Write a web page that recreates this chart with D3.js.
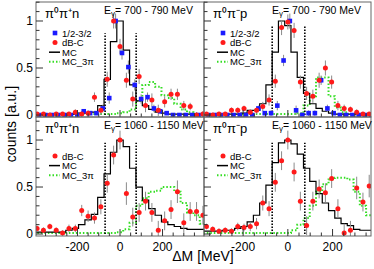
<!DOCTYPE html>
<html><head><meta charset="utf-8">
<script src="https://cdn.jsdelivr.net/npm/d3@7"></script>
<style>body{margin:0;background:#fff}svg{display:block}text{font-family:"Liberation Sans",Arial,sans-serif}</style>
</head><body><svg id="c" width="374" height="269"></svg>
<script>
// ---------- data ----------
const binsL = [-390,-360,-330,-300,-270,-240,-210,-180,-150,-120,-90,-60,-30,0,30,60,90,120,150,180,210,240,270,300,330,360,390];
const binsR = [-364,-336,-308,-280,-252,-224,-196,-168,-140,-112,-84,-56,-28,0,28,56,84,112,140,168,196,224,252,280,308,336,364];

// top-left: pi0 pi+ n, 700-790
const mcTL  = [0.01,0.01,0.01,0.01,0.01,0.01,0.01,0.02,0.02,0.03,0.10,0.38,0.78,1.00,0.69,0.32,0.15,0.10,0.06,0.03,0.02,0.01,0.01,0.01,0.01,0.01,0.01];
const mc3TL = [0.01,0.01,0.01,0.01,0.01,0.01,0.01,0.01,0.01,0.01,0.01,0.01,0.01,0.02,0.03,0.06,0.15,0.32,0.35,0.30,0.21,0.18,0.12,0.06,0.03,0.01,0.01];
const dbcTL = [0.01,0.01,0.00,0.01,0.01,0.01,0.03,0.01,0.02,0.19,0.05,0.38,1.00,0.73,0.37,0.17,0.41,0.10,0.16,0.05,0.14,0.22,0.22,0.10,0.09,0.00,0.01];
const dbcErrTL = [0.02,0.02,0.02,0.02,0.02,0.02,0.03,0.03,0.03,0.05,0.05,0.08,0.08,0.08,0.08,0.08,0.08,0.07,0.07,0.06,0.06,0.06,0.06,0.05,0.04,0.03,0.03];
const hbTL  = [0.00,0.00,0.00,0.00,0.00,0.00,0.00,0.04,0.02,0.02,0.07,0.18,1.00,0.66,0.51,0.32,0.17,0.19,0.07,0.04,0.02,0.00,0.00,0.00,0.00,0.00,0.00];
const hbErrTL = [0.01,0.01,0.01,0.01,0.01,0.01,0.01,0.02,0.02,0.02,0.04,0.06,0.08,0.07,0.07,0.06,0.05,0.05,0.04,0.03,0.02,0.02,0.01,0.01,0.01,0.01,0.01];

// top-right: pi0 pi- p, 700-790
const mcTR  = [0.01,0.01,0.01,0.01,0.01,0.01,0.02,0.05,0.05,0.12,0.32,0.67,1.00,0.95,0.67,0.40,0.23,0.12,0.07,0.04,0.02,0.01,0.01,0.01,0.01,0.01,0.01];
const mc3TR = [0.01,0.01,0.01,0.01,0.01,0.01,0.01,0.01,0.01,0.01,0.01,0.01,0.01,0.01,0.01,0.02,0.10,0.20,0.40,0.40,0.20,0.08,0.03,0.01,0.01,0.01,0.01];
const dbcTR = [0.01,0.00,0.01,0.01,0.05,0.05,0.07,0.03,0.05,0.09,0.16,0.36,0.93,0.99,0.90,0.35,0.23,0.20,0.37,0.50,0.35,0.10,0.07,0.06,0.03,0.01,0.01];
const dbcErrTR = [0.02,0.02,0.02,0.02,0.03,0.03,0.03,0.03,0.04,0.05,0.06,0.07,0.08,0.08,0.08,0.07,0.07,0.07,0.08,0.08,0.07,0.05,0.04,0.03,0.03,0.02,0.02];
const hbTR  = [0.00,0.00,0.00,0.00,0.00,0.00,0.00,0.00,0.07,0.02,0.02,0.10,0.58,1.00,0.05,0.00,0.02,0.02,0.37,0.07,0.02,0.00,0.00,0.00,0.00,0.00,0.00];
const hbErrTR = [0.01,0.01,0.01,0.01,0.01,0.01,0.01,0.01,0.03,0.02,0.03,0.05,0.06,0.08,0.05,0.03,0.03,0.03,0.05,0.04,0.02,0.01,0.01,0.01,0.01,0.01,0.01];

// bottom-left: pi0 pi+ n, 1060-1150
const mcBL  = [0.02,0.02,0.02,0.02,0.02,0.04,0.06,0.10,0.15,0.21,0.39,0.64,0.87,1.00,0.93,0.70,0.50,0.36,0.27,0.20,0.13,0.10,0.08,0.06,0.05,0.05,0.05];
const mc3BL = [0.01,0.01,0.01,0.01,0.01,0.01,0.01,0.01,0.01,0.01,0.01,0.01,0.01,0.02,0.05,0.12,0.30,0.38,0.45,0.46,0.50,0.50,0.45,0.33,0.23,0.20,0.11];
const dbcBL = [0.06,0.04,0.08,0.04,0.01,0.06,0.06,0.25,0.19,0.17,0.29,0.54,0.84,1.00,0.43,0.18,0.23,0.35,0.23,0.04,0.14,0.26,0.45,0.12,0.24,0.24,0.20];
const dbcErrBL = [0.03,0.03,0.03,0.03,0.03,0.04,0.04,0.06,0.06,0.06,0.08,0.10,0.10,0.10,0.12,0.10,0.10,0.10,0.10,0.10,0.10,0.10,0.12,0.10,0.10,0.10,0.10];

// bottom-right: pi0 pi- p, 1060-1150
const mcBR  = [0.03,0.03,0.03,0.04,0.04,0.06,0.08,0.13,0.20,0.33,0.52,0.76,0.97,1.00,0.96,0.85,0.70,0.56,0.43,0.33,0.25,0.17,0.11,0.09,0.05,0.04,0.04];
const mc3BR = [0.01,0.01,0.01,0.01,0.01,0.01,0.01,0.01,0.01,0.01,0.01,0.01,0.01,0.01,0.04,0.10,0.17,0.30,0.45,0.53,0.58,0.60,0.60,0.58,0.45,0.30,0.20];
const dbcBR = [0.08,0.05,0.03,0.04,0.03,0.08,0.07,0.08,0.11,0.33,0.27,0.55,0.78,1.00,0.66,0.35,0.09,0.35,0.48,0.44,0.59,0.27,0.01,0.04,0.49,0.34,0.51];
const dbcErrBR = [0.03,0.03,0.03,0.03,0.03,0.04,0.04,0.05,0.06,0.08,0.08,0.10,0.10,0.10,0.10,0.10,0.10,0.10,0.10,0.10,0.10,0.10,0.10,0.10,0.12,0.10,0.12];

const yTicksMajor = [0, 0.5, 1];
const yTickLabels = ["0", "0.5", "1"];
const xTicksMajor = [-200, 0, 200];
const xTickLabels = ["-200", "0", "200"];
const cutLines = [-70, 76];

const panels = [
  {name:"TL", x0:36, x1:204, y0:2, y1:117, xd:[-395,395], yd:[-0.021,1.202], bins:binsL, mc:mcTL, mc3:mc3TL, dbc:dbcTL, dbcErr:dbcErrTL, hb:hbTL, hbErr:hbErrTL,
   reac:"π⁰π⁺n", eg:"700 - 790 MeV", cutTop:0.87, yLabels:true, xLabels:false},
  {name:"TR", x0:204, x1:371, y0:2, y1:117, xd:[-375,372], yd:[-0.021,1.202], bins:binsR, mc:mcTR, mc3:mc3TR, dbc:dbcTR, dbcErr:dbcErrTR, hb:hbTR, hbErr:hbErrTR,
   reac:"π⁰π⁻p", eg:"700 - 790 MeV", cutTop:0.95, yLabels:false, xLabels:false},
  {name:"BL", x0:36, x1:204, y0:117, y1:236, xd:[-395,395], yd:[-0.021,1.245], bins:binsL, mc:mcBL, mc3:mc3BL, dbc:dbcBL, dbcErr:dbcErrBL, hb:null,
   reac:"π⁰π⁺n", eg:"1060 - 1150 MeV", cutTop:0.97, yLabels:true, xLabels:true},
  {name:"BR", x0:204, x1:371, y0:117, y1:236, xd:[-375,372], yd:[-0.021,1.245], bins:binsR, mc:mcBR, mc3:mc3BR, dbc:dbcBR, dbcErr:dbcErrBR, hb:null,
   reac:"π⁰π⁻p", eg:"1060 - 1150 MeV", cutTop:0.97, yLabels:false, xLabels:true}
];

const svg = d3.select("#c");
svg.append("rect").attr("width",374).attr("height",269).attr("fill","#fff");

panels.forEach(p => {
  const x = d3.scaleLinear().domain(p.xd).range([p.x0, p.x1]);
  const y = d3.scaleLinear().domain(p.yd).range([p.y1, p.y0]);
  const g = svg.append("g");
  const clipId = "clip" + p.name;
  svg.append("clipPath").attr("id", clipId).append("rect")
     .attr("x", p.x0).attr("y", p.y0).attr("width", p.x1 - p.x0).attr("height", p.y1 - p.y0);
  const plot = g.append("g").attr("clip-path", `url(#${clipId})`);
  const half = (p.bins[1] - p.bins[0]) / 2;

  const stepLine = vals => {
    const pts = [];
    p.bins.forEach((c, i) => { pts.push([c - half, vals[i]]); pts.push([c + half, vals[i]]); });
    return d3.line().x(d => x(d[0])).y(d => y(d[1]))(pts);
  };

  plot.append("path").attr("d", stepLine(p.mc3)).attr("fill","none")
    .attr("stroke","#33dd22").attr("stroke-width",2).attr("stroke-dasharray","1.5,2");
  plot.append("path").attr("d", stepLine(p.mc)).attr("fill","none")
    .attr("stroke","#000").attr("stroke-width",1.2);

  cutLines.forEach(cv => {
    plot.append("line").attr("x1", x(cv)).attr("x2", x(cv)).attr("y1", y(0)).attr("y2", y(p.cutTop))
      .attr("stroke","#000").attr("stroke-width",1.6).attr("stroke-dasharray","1.5,1.5");
  });

  const drawErr = (vals, errs, off) => {
    plot.selectAll(null).data(vals).enter().append("line")
      .attr("x1",(d,i)=>x(p.bins[i])+off).attr("x2",(d,i)=>x(p.bins[i])+off)
      .attr("y1",(d,i)=>y(d - errs[i])).attr("y2",(d,i)=>y(d + errs[i]))
      .attr("stroke","#8a8a8a").attr("stroke-width",1);
  };
  if (p.hb) drawErr(p.hb, p.hbErr, 2);
  drawErr(p.dbc, p.dbcErr, 0);
  if (p.hb) {
    plot.selectAll(null).data(p.hb).enter().append("rect")
      .attr("x",(d,i)=>x(p.bins[i])+2-2.3).attr("y",d=>y(d)-2.3).attr("width",4.6).attr("height",4.6)
      .attr("fill","#1a1aff");
  }
  plot.selectAll(null).data(p.dbc).enter().append("circle")
    .attr("cx",(d,i)=>x(p.bins[i])).attr("cy",d=>y(d)).attr("r",2.5).attr("fill","#ff1a1a");

  g.append("rect").attr("x",p.x0).attr("y",p.y0).attr("width",p.x1-p.x0).attr("height",p.y1-p.y0)
    .attr("fill","none").attr("stroke","#666").attr("stroke-width",1);

  const yMinor = d3.range(0, p.yd[1], 0.1);
  yMinor.forEach(v => {
    const major = Math.abs(v*2 - Math.round(v*2)) < 1e-6;
    g.append("line").attr("x1",p.x0).attr("x2",p.x0 + (major?7:3.5)).attr("y1",y(v)).attr("y2",y(v))
      .attr("stroke","#333").attr("stroke-width",1);
  });
  if (p.yLabels) {
    yTicksMajor.forEach((v,i) => {
      g.append("text").attr("x",p.x0-3).attr("y",y(v)+4.3).attr("text-anchor","end")
        .attr("font-size",12).text(yTickLabels[i]);
    });
  }
  const xMinor = d3.range(-350, 400, 50).filter(v => v>=p.xd[0] && v<=p.xd[1]);
  xMinor.forEach(v => {
    const major = v % 200 === 0;
    g.append("line").attr("x1",x(v)).attr("x2",x(v)).attr("y1",p.y1).attr("y2",p.y1-(major?7:3.5))
      .attr("stroke","#333").attr("stroke-width",1);
  });
  if (p.xLabels) {
    xTicksMajor.forEach((v,i) => {
      g.append("text").attr("x",x(v)).attr("y",251).attr("text-anchor","middle")
        .attr("font-size",12).text(xTickLabels[i]);
    });
  }

  g.append("text").attr("x",p.x0+9).attr("y",p.y0+16).attr("font-size",13).text(p.reac);
  const eg = g.append("text").attr("x", p.x0 + 68).attr("y", p.y0+12).attr("font-size",10.5);
  eg.append("tspan").text("E");
  eg.append("tspan").attr("font-size",8).attr("dy",2).text("γ");
  eg.append("tspan").attr("dy",-2).text("= " + p.eg);

  // legend
  const lx = p.x0 + 19, ly0 = p.hb ? p.y0 + 31 : p.y0 + 39;
  const rowH = 9.6, fs = 9.5;
  let row = 0;
  const yl = r => ly0 + r*rowH;
  if (p.hb) {
    g.append("rect").attr("x",lx-2.3).attr("y",ly0-2.3).attr("width",4.6).attr("height",4.6).attr("fill","#1a1aff");
    g.append("text").attr("x",lx+7).attr("y",ly0+3.5).attr("font-size",fs).text("1/2-3/2");
    row++;
  }
  g.append("circle").attr("cx",lx).attr("cy",yl(row)).attr("r",2.5).attr("fill","#ff1a1a");
  g.append("text").attr("x",lx+7).attr("y",yl(row)+3.5).attr("font-size",fs).text("dB-C");
  row++;
  g.append("line").attr("x1",lx-6).attr("x2",lx+5).attr("y1",yl(row)).attr("y2",yl(row)).attr("stroke","#000").attr("stroke-width",1.5);
  g.append("text").attr("x",lx+7).attr("y",yl(row)+3.5).attr("font-size",fs).text("MC");
  row++;
  g.append("line").attr("x1",lx-6).attr("x2",lx+5).attr("y1",yl(row)).attr("y2",yl(row))
    .attr("stroke","#33dd22").attr("stroke-width",2).attr("stroke-dasharray","1.5,2");
  g.append("text").attr("x",lx+7).attr("y",yl(row)+3.5).attr("font-size",fs).text("MC_3π");
});

svg.append("text").attr("transform","translate(16,124) rotate(-90)").attr("text-anchor","middle")
  .attr("font-size",14).text("counts [a.u.]");
svg.append("text").attr("x",203).attr("y",261).attr("text-anchor","middle")
  .attr("font-size",14).text("ΔM [MeV]");
</script></body></html>
